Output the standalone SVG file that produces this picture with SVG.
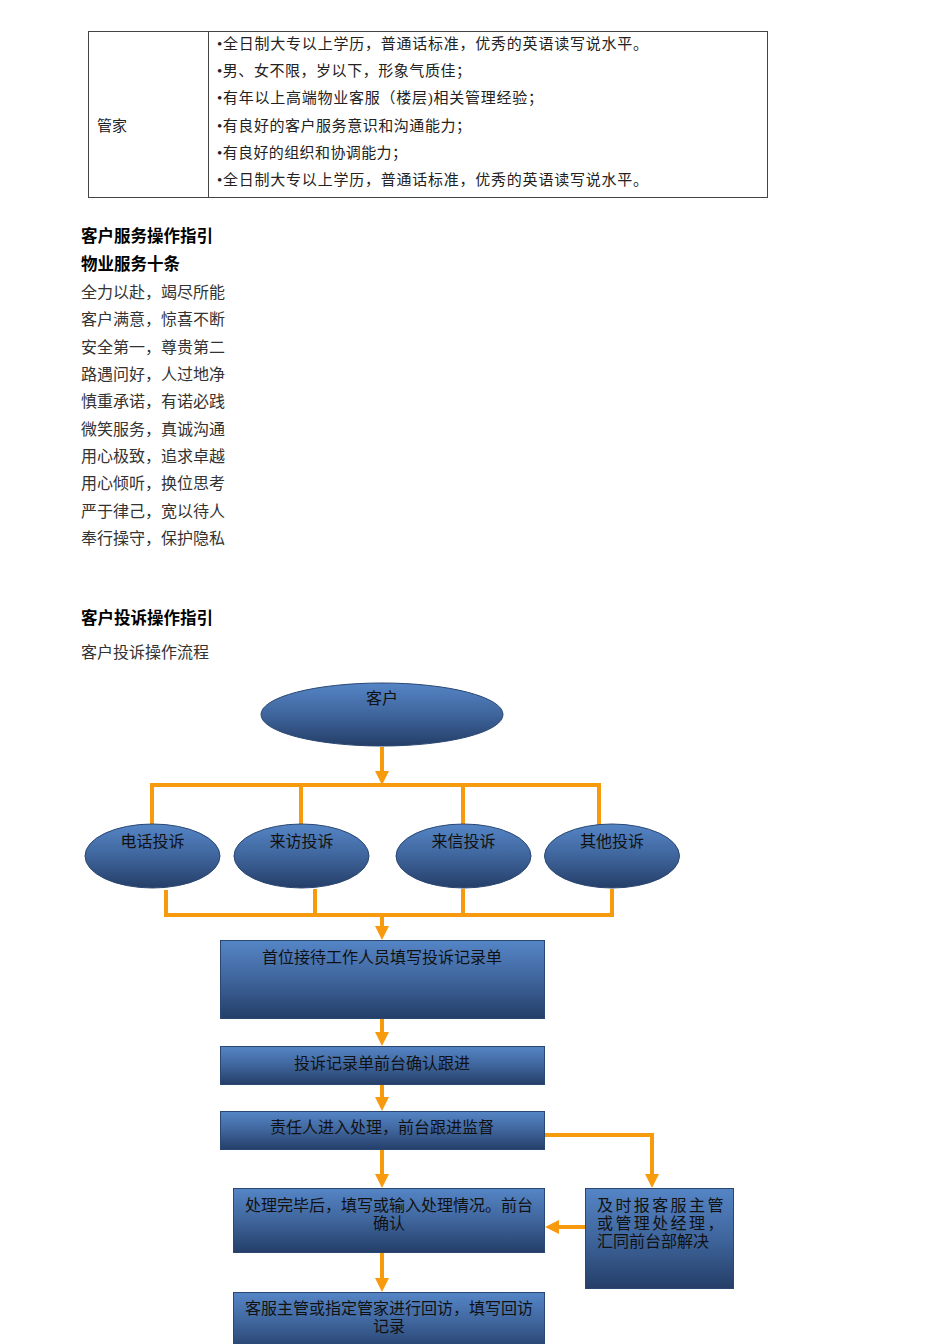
<svg xmlns="http://www.w3.org/2000/svg" width="950" height="1344" viewBox="0 0 950 1344">
<defs>
<linearGradient id="blue" x1="0" y1="0" x2="0" y2="1">
<stop offset="0" stop-color="#5585c6"/>
<stop offset="0.5" stop-color="#3f659c"/>
<stop offset="1" stop-color="#243e68"/>
</linearGradient>
<marker id="ah" markerUnits="userSpaceOnUse" markerWidth="14" markerHeight="14" refX="4" refY="7" orient="auto">
<path d="M0,0 L14,7 L0,14 z" fill="#f79a0e"/>
</marker>
<style>
.ser{font-family:"Liberation Serif","Noto Sans CJK SC",serif;font-size:15px;fill:#222}
.lst{font-family:"Liberation Serif","Noto Sans CJK SC",serif;font-size:16px;fill:#333}
.hd{font-family:"Liberation Sans","Noto Sans CJK SC",sans-serif;font-size:16.5px;font-weight:bold;fill:#000}
.nt{font-family:"Liberation Sans","Noto Sans CJK SC",sans-serif;font-size:16px;fill:#111}
.node{fill:url(#blue);stroke:#2a4773;stroke-width:1}
.ln{stroke:#f79a0e;stroke-width:4;fill:none}
.ar{stroke:#f79a0e;stroke-width:4;fill:none;marker-end:url(#ah)}
</style>
</defs>
<rect width="950" height="1344" fill="#fff"/>
<g id="table">
<rect x="88.5" y="31.5" width="679" height="166" fill="none" stroke="#444" stroke-width="1"/>
<line x1="208.5" y1="31.5" x2="208.5" y2="197.5" stroke="#444" stroke-width="1"/>
<text class="ser" x="97" y="131" font-size="16">管家</text>
<text class="ser" x="217" y="48.5" textLength="431" lengthAdjust="spacing">•全日制大专以上学历，普通话标准，优秀的英语读写说水平。</text>
<text class="ser" x="217" y="75.5" textLength="254" lengthAdjust="spacing">•男、女不限，岁以下，形象气质佳；</text>
<text class="ser" x="217" y="102.5" textLength="326" lengthAdjust="spacing">•有年以上高端物业客服（楼层)相关管理经验；</text>
<text class="ser" x="217" y="130.5" textLength="254" lengthAdjust="spacing">•有良好的客户服务意识和沟通能力；</text>
<text class="ser" x="217" y="157.5" textLength="190" lengthAdjust="spacing">•有良好的组织和协调能力；</text>
<text class="ser" x="217" y="184.5" textLength="431" lengthAdjust="spacing">•全日制大专以上学历，普通话标准，优秀的英语读写说水平。</text>
</g>
<g id="text-section">
<text class="hd" x="81" y="242">客户服务操作指引</text>
<text class="hd" x="81" y="270">物业服务十条</text>
<text class="lst" x="81" y="298">全力以赴，竭尽所能</text>
<text class="lst" x="81" y="325">客户满意，惊喜不断</text>
<text class="lst" x="81" y="353">安全第一，尊贵第二</text>
<text class="lst" x="81" y="380">路遇问好，人过地净</text>
<text class="lst" x="81" y="407">慎重承诺，有诺必践</text>
<text class="lst" x="81" y="435">微笑服务，真诚沟通</text>
<text class="lst" x="81" y="462">用心极致，追求卓越</text>
<text class="lst" x="81" y="489">用心倾听，换位思考</text>
<text class="lst" x="81" y="517">严于律己，宽以待人</text>
<text class="lst" x="81" y="544">奉行操守，保护隐私</text>
<text class="hd" x="81" y="624">客户投诉操作指引</text>
<text class="lst" x="81" y="658">客户投诉操作流程</text>
</g>
<g id="connectors">
<line class="ar" x1="382" y1="747" x2="382" y2="775"/>
<polyline class="ln" points="152,825 152,785 599,785 599,825"/>
<line class="ln" x1="301" y1="785" x2="301" y2="825"/>
<line class="ln" x1="463" y1="785" x2="463" y2="825"/>
<polyline class="ln" points="166,890 166,915 612,915 612,889"/>
<line class="ln" x1="315" y1="889" x2="315" y2="915"/>
<line class="ln" x1="463" y1="889" x2="463" y2="915"/>
<line class="ar" x1="382" y1="915" x2="382" y2="930"/>
<line class="ar" x1="382" y1="1019" x2="382" y2="1036"/>
<line class="ar" x1="382" y1="1085" x2="382" y2="1101"/>
<line class="ar" x1="382" y1="1150" x2="382" y2="1178"/>
<polyline class="ar" points="545,1135 652,1135 652,1178"/>
<line class="ar" x1="585" y1="1227" x2="555" y2="1227"/>
<line class="ar" x1="382" y1="1253" x2="382" y2="1282"/>
</g>
<g id="n-kehu">
<ellipse class="node" cx="382" cy="714.5" rx="121" ry="31.5"/>
<text class="nt" x="382" y="704" text-anchor="middle">客户</text>
</g>
<g id="n-dianhua">
<ellipse class="node" cx="152.5" cy="856" rx="67.5" ry="32"/>
<text class="nt" x="152.5" y="847" text-anchor="middle">电话投诉</text>
</g>
<g id="n-laifang">
<ellipse class="node" cx="301.5" cy="856" rx="67.5" ry="32"/>
<text class="nt" x="301.5" y="847" text-anchor="middle">来访投诉</text>
</g>
<g id="n-laixin">
<ellipse class="node" cx="463.5" cy="856" rx="67.5" ry="32"/>
<text class="nt" x="463.5" y="847" text-anchor="middle">来信投诉</text>
</g>
<g id="n-qita">
<ellipse class="node" cx="612" cy="856" rx="67.5" ry="32"/>
<text class="nt" x="612" y="847" text-anchor="middle">其他投诉</text>
</g>
<g id="n-box1">
<rect class="node" x="220.5" y="940.5" width="324" height="78"/>
<text class="nt" x="382" y="963" text-anchor="middle">首位接待工作人员填写投诉记录单</text>
</g>
<g id="n-box2">
<rect class="node" x="220.5" y="1046.5" width="324" height="38"/>
<text class="nt" x="382" y="1069" text-anchor="middle">投诉记录单前台确认跟进</text>
</g>
<g id="n-box3">
<rect class="node" x="220.5" y="1111.5" width="324" height="38"/>
<text class="nt" x="382" y="1133" text-anchor="middle">责任人进入处理，前台跟进监督</text>
</g>
<g id="n-box4">
<rect class="node" x="233.5" y="1188.5" width="311" height="64"/>
<text class="nt" x="389" y="1211" text-anchor="middle">处理完毕后，填写或输入处理情况。前台</text>
<text class="nt" x="389" y="1229" text-anchor="middle">确认</text>
</g>
<g id="n-box5">
<rect class="node" x="585.5" y="1188.5" width="148" height="100"/>
<text class="nt" x="597" y="1211" letter-spacing="2.4">及时报客服主管</text>
<text class="nt" x="597" y="1229" letter-spacing="2.4">或管理处经理，</text>
<text class="nt" x="597" y="1247">汇同前台部解决</text>
</g>
<g id="n-box6">
<rect class="node" x="233.5" y="1292.5" width="311" height="60"/>
<text class="nt" x="389" y="1314" text-anchor="middle">客服主管或指定管家进行回访，填写回访</text>
<text class="nt" x="389" y="1332" text-anchor="middle">记录</text>
</g>
</svg>
